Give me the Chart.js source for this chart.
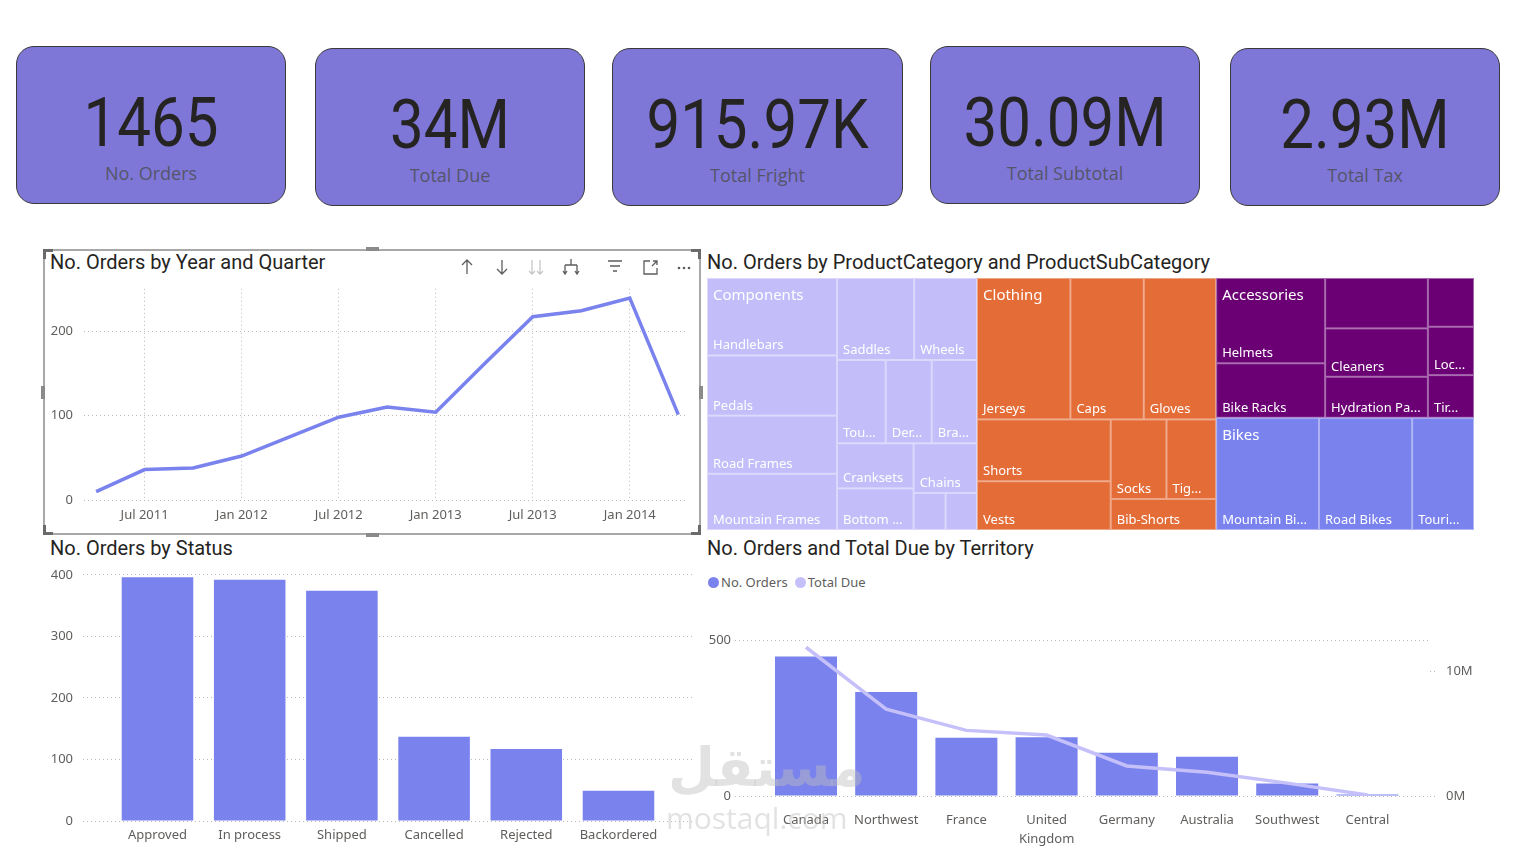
<!DOCTYPE html>
<html>
<head>
<meta charset="utf-8">
<script src="https://cdn.jsdelivr.net/npm/chart.js@4.4.1/dist/chart.umd.min.js"></script>
<style>
body { margin: 0; background: #fff; }
#page { position: relative; width: 1519px; height: 850px; overflow: hidden; font-family: "Segoe UI", "Noto Sans", sans-serif; }
.card { position: absolute; width: 270px; height: 158px; background: #7f77d8; border: 1px solid #3a3a3a; border-radius: 18px; box-sizing: border-box; }
.card .val { position: absolute; left: 0; right: 0; top: 41px; text-align: center; font-family: Roboto, sans-serif; font-size: 69px; line-height: 1; color: #252423; transform: scaleX(.87); }
.card .lbl { position: absolute; left: 0; right: 0; top: 117px; text-align: center; font-family: "Open Sans", sans-serif; font-size: 18px; line-height: 1; color: #55556a; }
.title { position: absolute; font-family: Roboto, sans-serif; font-size: 20px; line-height: 1; color: #252423; white-space: nowrap; }
.holder { position: absolute; }
.frame { position: absolute; left: 43px; top: 249px; width: 658px; height: 286px; border: 2px solid #a8a8a8; box-sizing: border-box; }
.handle { position: absolute; background: #8a8a8a; }
.corner { position: absolute; width: 7px; height: 7px; border: 0 solid #6a6a6a; }
.legend { position: absolute; left: 708px; top: 573px; font-size: 13px; color: #605e5c; white-space: nowrap; }
.legend span.dot { display: inline-block; width: 11px; height: 11px; border-radius: 50%; vertical-align: -1px; margin-right: 2px; }
.legend span.item { margin-right: 7px; }
.wm { position: absolute; color: rgba(190, 190, 190, 0.45); white-space: nowrap; pointer-events: none; }
</style>
</head>
<body>
<div id="page">
  <div class="card" style="left:16px;top:46px"><div class="val">1465</div><div class="lbl">No. Orders</div></div>
  <div class="card" style="left:315px;top:48px"><div class="val">34M</div><div class="lbl">Total Due</div></div>
  <div class="card" style="left:612px;top:48px;width:291px"><div class="val">915.97K</div><div class="lbl">Total Fright</div></div>
  <div class="card" style="left:930px;top:46px"><div class="val">30.09M</div><div class="lbl">Total Subtotal</div></div>
  <div class="card" style="left:1230px;top:48px"><div class="val">2.93M</div><div class="lbl">Total Tax</div></div>

  <div class="frame"></div>
  <div class="corner" style="left:43px;top:249px;border-left-width:3px;border-top-width:3px"></div>
  <div class="corner" style="left:691px;top:249px;border-right-width:3px;border-top-width:3px"></div>
  <div class="corner" style="left:43px;top:525px;border-left-width:3px;border-bottom-width:3px"></div>
  <div class="corner" style="left:691px;top:525px;border-right-width:3px;border-bottom-width:3px"></div>
  <div class="handle" style="left:366px;top:247px;width:13px;height:4px"></div>
  <div class="handle" style="left:366px;top:533px;width:13px;height:4px"></div>
  <div class="handle" style="left:41px;top:386px;width:4px;height:13px"></div>
  <div class="handle" style="left:699px;top:386px;width:4px;height:13px"></div>
  <svg class="holder" style="left:455px;top:256px" width="240" height="24" fill="none" stroke="#605e5c" stroke-width="1.3">
    <path d="M12 4V18M7 9L12 4L17 9"/>
    <path d="M47 4V18M42 13L47 18L52 13"/>
    <path stroke="#c8c6c4" d="M77 4V18M74 15L77 18L80 15M85 4V18M82 15L85 18L88 15"/>
    <path d="M116 3V9M110 9H122M110 9V18M122 9V18M108 15L110 18L112 15M120 15L122 18L124 15"/>
    <path d="M153 5H167M155 10H165M158 15H162"/>
    <path d="M195 5H189V18H202V12M197 10L202 5M198 5H202V9"/>
    <g fill="#605e5c" stroke="none"><circle cx="224" cy="12" r="1.3"/><circle cx="229" cy="12" r="1.3"/><circle cx="234" cy="12" r="1.3"/></g>
  </svg>

  <div class="title" style="left:50px;top:252px">No. Orders by Year and Quarter</div>
  <div class="title" style="left:707px;top:252px">No. Orders by ProductCategory and ProductSubCategory</div>
  <div class="title" style="left:50px;top:538px">No. Orders by Status</div>
  <div class="title" style="left:707px;top:538px">No. Orders and Total Due by Territory</div>

  <div class="holder" style="left:44px;top:270px"><canvas id="lineChart" width="656" height="260"></canvas></div>
  <div class="holder" style="left:707px;top:278px"><canvas id="treeChart" width="767" height="252"></canvas></div>
  <div class="holder" style="left:44px;top:557px"><canvas id="statusChart" width="656" height="288"></canvas></div>
  <div class="legend" id="terrLegend"></div>
  <div class="holder" style="left:700px;top:600px"><canvas id="terrChart" width="819" height="250"></canvas></div>

  <div class="wm" style="left:668px;top:736px;font-family:'DejaVu Sans';font-weight:bold;font-size:54px">مستقل</div>
  <div class="wm" style="left:666px;top:797px;font-family:'Open Sans';font-size:30px">mostaql.com</div>
</div>

<script>
// orders per quarter, Apr 2011 .. Apr 2014
const quarterStarts = ['Apr 2011', 'Jul 2011', 'Oct 2011', 'Jan 2012', 'Apr 2012', 'Jul 2012', 'Oct 2012',
  'Jan 2013', 'Apr 2013', 'Jul 2013', 'Oct 2013', 'Jan 2014', 'Apr 2014'];
const quarterOrders = [10, 36, 38, 52, 75, 98, 110, 104, 161, 217, 224, 239, 101];

const statuses = ['Approved', 'In process', 'Shipped', 'Cancelled', 'Rejected', 'Backordered'];
const statusOrders = [396, 392, 374, 137, 117, 49];

const territories = ['Canada', 'Northwest', 'France', 'United Kingdom', 'Germany', 'Australia', 'Southwest', 'Central'];
const territoryOrders = [447, 333, 187, 188, 139, 126, 40, 5];
const territoryDue = [11.9e6, 6.95e6, 5.25e6, 4.88e6, 2.4e6, 1.9e6, 1.03e6, 0.08e6];
const territorySeries = ['No. Orders', 'Total Due'];
const dueTicks = [0, 10e6];

const productCategories = ['Components', 'Clothing', 'Accessories', 'Bikes'];
const componentsSubs = ['Handlebars', 'Pedals', 'Road Frames', 'Mountain Frames', 'Saddles', 'Wheels', 'Touring Frames',
  'Derailleurs', 'Brakes', 'Cranksets', 'Bottom Brackets', 'Chains', 'Forks', 'Headsets'];
const componentsOrders = [502, 390, 377, 364, 315, 257, 202, 191, 188, 172, 159, 157, 59, 58];
const clothingSubs = ['Jerseys', 'Caps', 'Gloves', 'Shorts', 'Vests', 'Socks', 'Tights', 'Bib-Shorts'];
const clothingOrders = [658, 517, 510, 412, 325, 221, 197, 163];
const accessoriesSubs = ['Helmets', 'Bike Racks', 'Bottles and Cages', 'Cleaners', 'Hydration Packs', 'Pumps', 'Locks', 'Tires and Tubes'];
const accessoriesOrders = [463, 296, 258, 248, 210, 112, 111, 98];
const bikesSubs = ['Mountain Bikes', 'Road Bikes', 'Touring Bikes'];
const bikesOrders = [575, 521, 346];

const barColor = '#7982ed';
const lightColor = '#c5c0fa';
const categoryColors = ['#c3befa', '#e46c37', '#6b0075', '#7982ed'];
const gridColor = '#bdbab6';
const tickFont = { family: '"Segoe UI", "Noto Sans", sans-serif', size: 13 };

Chart.defaults.font.family = tickFont.family;
Chart.defaults.color = '#605e5c';

const noPlugins = { legend: { display: false }, tooltip: { enabled: false } };

// line chart
new Chart(document.getElementById('lineChart'), {
    type: 'line',
    data: {
        datasets: [{
            data: quarterOrders.map((v, i) => ({ x: i, y: v })),
            borderColor: barColor,
            borderWidth: 3.5,
            pointRadius: 0,
            tension: 0
        }]
    },
    options: {
        responsive: false,
        animation: false,
        plugins: noPlugins,
        layout: { padding: { top: 0, right: 12, left: 0, bottom: 0 } },
        scales: {
            x: {
                type: 'linear', min: -0.25, max: 12.2,
                afterBuildTicks: s => {
                    s.ticks = quarterStarts.map((q, i) => ({ value: i }))
                        .filter(t => /^(Jan|Jul)/.test(quarterStarts[t.value]));
                },
                afterFit: s => { s.height = 30; },
                ticks: { callback: v => quarterStarts[v], font: tickFont, padding: 7, maxRotation: 0, autoSkip: false },
                grid: { color: gridColor, drawTicks: false },
                border: { display: false, dash: [1, 3] }
            },
            y: {
                min: 0, max: 250,
                afterFit: s => { s.width = 40; },
                ticks: { stepSize: 100, includeBounds: false, font: tickFont, padding: 11 },
                grid: { color: gridColor, drawTicks: false },
                border: { display: false, dash: [1, 3] }
            }
        }
    }
});

// status bars
new Chart(document.getElementById('statusChart'), {
    type: 'bar',
    data: {
        datasets: [{
            data: statusOrders.map((v, i) => ({ x: i, y: v })),
            backgroundColor: barColor,
            barPercentage: 0.776,
            categoryPercentage: 1
        }]
    },
    options: {
        responsive: false,
        animation: false,
        plugins: noPlugins,
        layout: { padding: { top: 0, right: 5, left: 0, bottom: 0 } },
        scales: {
            x: {
                type: 'linear', min: -0.808, max: 5.83, offset: false,
                afterBuildTicks: s => { s.ticks = statuses.map((n, i) => ({ value: i })); },
                afterFit: s => { s.height = 24; },
                ticks: { callback: v => statuses[v], font: tickFont, padding: 6, maxRotation: 0, autoSkip: false },
                grid: { display: false, drawTicks: false, offset: false },
                border: { display: false }
            },
            y: {
                min: 0, max: 400,
                afterFit: s => { s.width = 39; },
                ticks: { stepSize: 100, font: tickFont, padding: 10 },
                grid: { color: gridColor, drawTicks: false },
                border: { display: false, dash: [1, 3] }
            }
        }
    }
});

// territory combo
document.getElementById('terrLegend').innerHTML = territorySeries.map((s, i) =>
    '<span class="item"><span class="dot" style="background:' + (i ? lightColor : barColor) + '"></span>' + s + '</span>').join('');

new Chart(document.getElementById('terrChart'), {
    type: 'bar',
    data: {
        datasets: [{
            type: 'line',
            label: territorySeries[1],
            data: territoryDue.map((v, i) => ({ x: i, y: v })),
            yAxisID: 'y1',
            borderColor: lightColor,
            borderWidth: 3.5,
            pointRadius: 0,
            tension: 0,
            order: 0
        }, {
            label: territorySeries[0],
            data: territoryOrders.map((v, i) => ({ x: i, y: v })),
            yAxisID: 'y',
            backgroundColor: barColor,
            barPercentage: 0.773,
            categoryPercentage: 1,
            order: 1
        }]
    },
    options: {
        responsive: false,
        animation: false,
        plugins: noPlugins,
        layout: { padding: { top: 40, right: 0, left: 0, bottom: 0 } },
        scales: {
            x: {
                type: 'linear', min: -0.885, max: 7.78, offset: false,
                afterBuildTicks: s => { s.ticks = territories.map((n, i) => ({ value: i })); },
                afterFit: s => { s.height = 54; },
                ticks: {
                    callback: v => territories[v].includes(' ') ? territories[v].split(' ') : territories[v],
                    font: { family: tickFont.family, size: 13, lineHeight: 1.45 }, padding: 15, maxRotation: 0, autoSkip: false
                },
                grid: { display: false, drawTicks: false, offset: false },
                border: { display: false }
            },
            y: {
                min: 0, max: 500,
                afterFit: s => { s.width = 35; },
                ticks: { stepSize: 500, font: tickFont, padding: 4 },
                grid: { color: gridColor, drawTicks: false },
                border: { display: false, dash: [1, 3] }
            },
            y1: {
                position: 'right', min: 0, max: 12.48e6,
                afterBuildTicks: s => { s.ticks = dueTicks.map(v => ({ value: v })); },
                afterFit: s => { s.width = 89; },
                ticks: { font: tickFont, padding: 8, callback: v => (v / 1e6) + 'M' },
                grid: { drawOnChartArea: false, drawTicks: true, tickLength: 8, color: gridColor, tickBorderDash: [1, 3] },
                border: { display: false, dash: [1, 3] }
            }
        }
    }
});

// treemap: squarified layout (golden ratio), drawn through the chart scales
const PHI = (1 + Math.sqrt(5)) / 2;
function squarify(nodes, x0, y0, x1, y1) {
    let value = nodes.reduce((s, n) => s + n.value, 0);
    let i0 = 0, i1 = 0;
    const n = nodes.length;
    while (i0 < n) {
        const dx = x1 - x0, dy = y1 - y0;
        let sumValue = nodes[i1++].value;
        let minValue = sumValue, maxValue = sumValue;
        const alpha = Math.max(dy / dx, dx / dy) / (value * PHI);
        let beta = sumValue * sumValue * alpha;
        let minRatio = Math.max(maxValue / beta, beta / minValue);
        for (; i1 < n; ++i1) {
            const v = nodes[i1].value;
            sumValue += v;
            if (v < minValue) minValue = v;
            if (v > maxValue) maxValue = v;
            beta = sumValue * sumValue * alpha;
            const newRatio = Math.max(maxValue / beta, beta / minValue);
            if (newRatio > minRatio) { sumValue -= v; break; }
            minRatio = newRatio;
        }
        const row = nodes.slice(i0, i1);
        if (dx < dy) {
            const yb = y0 + dy * sumValue / value;
            let x = x0;
            row.forEach(r => { r.x0 = x; x += dx * r.value / sumValue; r.x1 = x; r.y0 = y0; r.y1 = yb; });
            y0 = yb;
        } else {
            const xb = x0 + dx * sumValue / value;
            let y = y0;
            row.forEach(r => { r.y0 = y; y += dy * r.value / sumValue; r.y1 = y; r.x0 = x0; r.x1 = xb; });
            x0 = xb;
        }
        value -= sumValue;
        i0 = i1;
    }
}

function fitText(ctx, text, maxW) {
    if (ctx.measureText(text).width <= maxW) return text;
    for (let k = text.length - 1; k >= 3; k--) {
        const t = text.slice(0, k) + '...';
        if (ctx.measureText(t).width <= maxW) return t;
    }
    return null;
}

const treemapPlugin = {
    id: 'treemap',
    afterDatasetsDraw(chart) {
        const { ctx, chartArea } = chart;
        const xs = chart.scales.x, ys = chart.scales.y;
        const aspect = chartArea.width / chartArea.height;
        const subLists = [componentsSubs, clothingSubs, accessoriesSubs, bikesSubs];
        const valLists = [componentsOrders, clothingOrders, accessoriesOrders, bikesOrders];
        const groups = productCategories.map((name, i) => {
            const children = subLists[i].map((s, j) => ({ name: s, value: valLists[i][j] }))
                .sort((a, b) => b.value - a.value);
            return { name, color: categoryColors[i], children, value: children.reduce((s, c) => s + c.value, 0) };
        }).sort((a, b) => b.value - a.value);
        squarify(groups, 0, 0, aspect, 1);
        groups.forEach(g => squarify(g.children, g.x0, g.y0, g.x1, g.y1));
        const px = v => xs.getPixelForValue(v / aspect);
        const py = v => ys.getPixelForValue(v);

        ctx.save();
        groups.forEach(g => {
            g.children.forEach(c => {
                const l = px(c.x0), r = px(c.x1), t = py(c.y0), b = py(c.y1);
                ctx.fillStyle = g.color;
                ctx.fillRect(l, t, r - l, b - t);
                ctx.strokeStyle = 'rgba(255,255,255,0.4)';
                ctx.lineWidth = 1;
                ctx.strokeRect(l + 0.5, t + 0.5, r - l - 1, b - t - 1);
            });
        });
        ctx.fillStyle = '#ffffff';
        ctx.textBaseline = 'alphabetic';
        groups.forEach(g => {
            const gTop = py(g.y0);
            ctx.font = '13px "Segoe UI", "Noto Sans", sans-serif';
            g.children.forEach(c => {
                const l = px(c.x0), r = px(c.x1), b = py(c.y1), t = py(c.y0);
                const base = b - 6;
                if (base - 13 < gTop + 40 || b - t < 20) return;
                const label = fitText(ctx, c.name, r - l - 12.8);
                if (label) ctx.fillText(label, l + 6, base);
            });
            ctx.font = '15px "Segoe UI", "Noto Sans", sans-serif';
            ctx.fillText(g.name, px(g.x0) + 6, gTop + 22);
        });
        ctx.restore();
    }
};

new Chart(document.getElementById('treeChart'), {
    type: 'scatter',
    data: { datasets: [{ data: [], pointRadius: 0 }] },
    options: {
        responsive: false,
        animation: false,
        plugins: noPlugins,
        layout: { padding: 0 },
        scales: {
            x: { type: 'linear', min: 0, max: 1, display: false },
            y: { type: 'linear', min: 0, max: 1, reverse: true, display: false }
        }
    },
    plugins: [treemapPlugin]
});
</script>
</body>
</html>
